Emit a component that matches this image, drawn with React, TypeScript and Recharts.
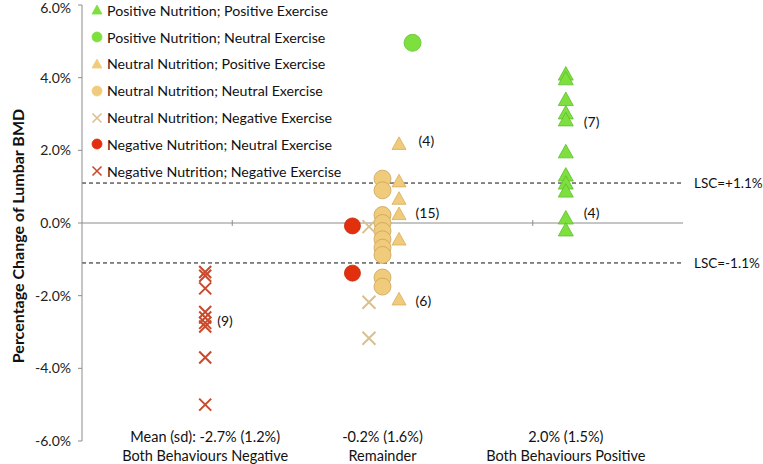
import React from 'react';
import { ScatterChart, Scatter, XAxis, YAxis, ReferenceLine } from 'recharts';

// percentage change of lumbar BMD
const negNegValues = [-1.35, -1.45, -1.8, -2.45, -2.6, -2.75, -2.85, -3.7, -5.0];
const negNeutralValues = [-0.08, -1.38];
const neutralNegValues = [-0.1, -2.18, -3.17];
const neutralNeutralValues = [1.22, 0.9, 0.22, 0.0, -0.22, -0.45, -0.68, -0.88, -1.5, -1.75];
const neutralPosValues = [2.18, 1.15, 0.67, 0.25, -0.45, -2.1];
const posNeutralValues = [4.96];
const posPosValues = [4.1, 3.97, 3.4, 3.03, 2.84, 1.96, 1.32, 1.1, 0.88, 0.14, -0.19];

// horizontal slot of each series on the 0..4 x scale
const groupX = [0.82, 2.0, 3.22];
const redDotX = 1.8;
const tanCrossX = 1.91;
const tanTriX = 2.11;
const greenDotX = 2.2;

const meanLabels = ['Mean (sd): -2.7% (1.2%)', '-0.2% (1.6%)', '2.0% (1.5%)'];
const groupLabels = ['Both Behaviours Negative', 'Remainder', 'Both Behaviours Positive'];
const yTicks = [-6, -4, -2, 0, 2, 4, 6];
const zeroTicks = [1, 2, 3];

const countNotes = [
  { x: 0.9, y: -2.67, text: '(9)' },
  { x: 2.24, y: 2.27, text: '(4)' },
  { x: 2.22, y: 0.28, text: '(15)' },
  { x: 2.22, y: -2.12, text: '(6)' },
  { x: 3.34, y: 2.78, text: '(7)' },
  { x: 3.34, y: 0.28, text: '(4)' },
];

const FONT = 'Lato, "Open Sans", sans-serif';
const GREEN = '#7EE03E';
const TAN = '#F1CB7C';
const TAN_X = '#D9C08E';
const RED = '#E2300E';
const RED_X = '#C94A2C';

const pts = (x: number, vals: number[]) => vals.map((y) => ({ x, y }));

const triangle = (fill: string, edge: string, w: number) => (p: any) => {
  const { cx, cy } = p;
  const h = w * 0.9;
  return (
    <polygon
      points={`${cx},${cy - h * 0.55} ${cx - w / 2},${cy + h * 0.45} ${cx + w / 2},${cy + h * 0.45}`}
      fill={fill}
      stroke={edge}
      strokeWidth={0.8}
      strokeLinejoin="round"
    />
  );
};

const dot = (fill: string, edge: string, r: number) => (p: any) => (
  <circle cx={p.cx} cy={p.cy} r={r} fill={fill} stroke={edge} strokeWidth={0.8} />
);

const cross = (color: string, s: number, sw: number) => (p: any) => {
  const { cx, cy } = p;
  const d = s / 2;
  return (
    <path
      d={`M${cx - d},${cy - d}L${cx + d},${cy + d}M${cx - d},${cy + d}L${cx + d},${cy - d}`}
      stroke={color}
      strokeWidth={sw}
      fill="none"
    />
  );
};

const series = [
  { name: 'Positive Nutrition; Positive Exercise', data: pts(groupX[2], posPosValues), shape: triangle(GREEN, '#5DBE2C', 15), icon: triangle(GREEN, GREEN, 10) },
  { name: 'Positive Nutrition; Neutral Exercise', data: pts(greenDotX, posNeutralValues), shape: dot(GREEN, '#62C432', 8.5), icon: dot(GREEN, GREEN, 5) },
  { name: 'Neutral Nutrition; Positive Exercise', data: pts(tanTriX, neutralPosValues), shape: triangle(TAN, '#D6AE5E', 14), icon: triangle(TAN, TAN, 10) },
  { name: 'Neutral Nutrition; Neutral Exercise', data: pts(groupX[1], neutralNeutralValues), shape: dot(TAN, '#C9A258', 8.5), icon: dot(TAN, TAN, 5) },
  { name: 'Neutral Nutrition; Negative Exercise', data: pts(tanCrossX, neutralNegValues), shape: cross(TAN_X, 13, 2), icon: cross(TAN_X, 9, 1.6) },
  { name: 'Negative Nutrition; Neutral Exercise', data: pts(redDotX, negNeutralValues), shape: dot(RED, '#C42808', 8), icon: dot(RED, RED, 5) },
  { name: 'Negative Nutrition; Negative Exercise', data: pts(groupX[0], negNegValues), shape: cross(RED_X, 12, 2), icon: cross(RED_X, 9, 1.6) },
];

// legend sits over the plot's top-left corner, like the original
const LegendBox = () => (
  <div style={{ position: 'absolute', left: 90, top: -3, fontFamily: FONT, fontSize: 14.2, color: '#111' }}>
    {series.map((s) => (
      <div key={s.name} style={{ height: 26.8, display: 'flex', alignItems: 'center' }}>
        <svg width={14} height={14} style={{ marginRight: 3 }}>
          {s.icon({ cx: 7, cy: 7 })}
        </svg>
        <span>{s.name}</span>
      </div>
    ))}
  </div>
);

const GroupTick = (p: any) => {
  const { x, y, index } = p;
  return (
    <text x={x} textAnchor="middle" fontFamily={FONT} fontSize={14.5} fill="#111">
      <tspan x={x} y={y - 7}>{meanLabels[index]}</tspan>
      <tspan x={x} y={y + 12}>{groupLabels[index]}</tspan>
    </text>
  );
};

const NoteShape = (p: any) => (
  <text x={p.cx} y={p.cy} dominantBaseline="central" fontFamily={FONT} fontSize={14} fill="#111">
    {p.payload.text}
  </text>
);

export default function App() {
  return (
    <div style={{ position: 'absolute', left: 0, top: 0, width: 763, height: 464, background: '#fff' }}>
      <ScatterChart width={763} height={464} margin={{ top: 5, right: 80, bottom: 0, left: 0 }}>
        <XAxis
          type="number"
          dataKey="x"
          domain={[0, 4]}
          ticks={groupX}
          interval={0}
          axisLine={false}
          tickLine={false}
          height={23}
          tick={<GroupTick />}
        />
        <YAxis
          type="number"
          dataKey="y"
          domain={[-6, 6]}
          ticks={yTicks}
          width={82}
          tickSize={4}
          tickMargin={7}
          tickFormatter={(v: number) => `${v.toFixed(1)}%`}
          tick={{ fontFamily: FONT, fontSize: 14, fill: '#222' }}
          axisLine={{ stroke: '#8c8c8c' }}
          tickLine={{ stroke: '#8c8c8c' }}
          label={{
            content: () => (
              <text
                x={17}
                y={236}
                transform="rotate(-90 17 236)"
                textAnchor="middle"
                dominantBaseline="central"
                fontFamily={FONT}
                fontSize={16}
                fontWeight="bold"
                fill="#111"
              >
                Percentage Change of Lumbar BMD
              </text>
            ),
          }}
        />
        <ReferenceLine y={0} stroke="#8c8c8c" />
        {zeroTicks.map((t) => (
          <ReferenceLine key={t} segment={[{ x: t, y: -0.08 }, { x: t, y: 0.08 }]} stroke="#8c8c8c" />
        ))}
        <ReferenceLine
          y={1.1}
          stroke="#111"
          strokeDasharray="4 3"
          label={{ value: 'LSC=+1.1%', position: 'right', offset: 11, fontFamily: FONT, fontSize: 13.5, fill: '#111' }}
        />
        <ReferenceLine
          y={-1.1}
          stroke="#111"
          strokeDasharray="4 3"
          label={{ value: 'LSC=-1.1%', position: 'right', offset: 11, fontFamily: FONT, fontSize: 13.5, fill: '#111' }}
        />
        {series.map((s) => (
          <Scatter key={s.name} name={s.name} data={s.data} shape={s.shape} isAnimationActive={false} />
        ))}
        <Scatter name="counts" data={countNotes} shape={NoteShape} isAnimationActive={false} legendType="none" />
      </ScatterChart>
      <LegendBox />
    </div>
  );
}
